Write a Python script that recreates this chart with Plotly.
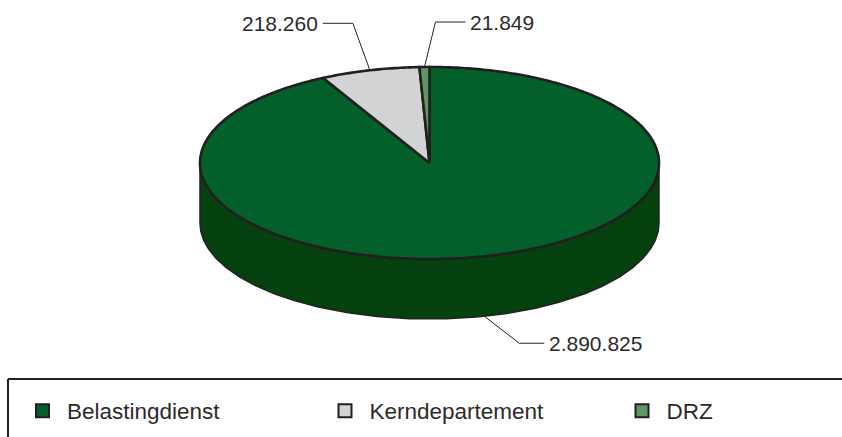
import numpy as np
import plotly.graph_objects as go

categories = ["Belastingdienst", "Kerndepartement", "DRZ"]
values = [2890825, 218260, 21849]
labels = ["2.890.825", "218.260", "21.849"]
colors = ["#04602A", "#D1D3D4", "#5E9664"]
wall_color = "#04410F"
ink = "#231F20"
text_ink = "#2B2A2A"

W, H = 842, 437
cx, cy, rx, ry, depth = 429.5, 163, 229.5, 96, 60
font_family = "Liberation Sans"


def pt(theta, dy=0.0):
    """theta: radians clockwise from 12 o'clock."""
    return cx + rx * np.sin(theta), cy - ry * np.cos(theta) + dy


fig = go.Figure()

# side wall (front half of the cylinder)
t = np.linspace(np.pi / 2, 3 * np.pi / 2, 240)
xt, yt = pt(t)
xb, yb = pt(t, depth)
fig.add_trace(go.Scatter(
    x=np.r_[xt, xb[::-1], xt[0]], y=np.r_[yt, yb[::-1], yt[0]],
    mode="lines", fill="toself", fillcolor=wall_color,
    line=dict(color=ink, width=1.5), showlegend=False, hoverinfo="skip"))

# top slices
fractions = np.array(values, dtype=float) / sum(values)
edges = np.r_[0, np.cumsum(fractions)] * 2 * np.pi
for i, name in enumerate(categories):
    a = np.linspace(edges[i], edges[i + 1], max(6, int(fractions[i] * 480)))
    x, y = pt(a)
    fig.add_trace(go.Scatter(
        x=np.r_[cx, x, cx], y=np.r_[cy, y, cy],
        mode="lines", fill="toself", fillcolor=colors[i],
        line=dict(color=ink, width=2.6, simplify=False), showlegend=False,
        hoverinfo="skip"))

# leader lines and value labels
elbows = [(35, 27, 25, "left"), (-17, -47, -30, "right"), (11, -45, 30, "left")]
mids = (edges[:-1] + edges[1:]) / 2
for i, (dx, dy, run, side) in enumerate(elbows):
    drop = depth if i == 0 else 0
    ax, ay = pt(mids[i], drop)
    ex, ey = ax + dx, ay + dy
    fig.add_trace(go.Scatter(
        x=[ax, ex, ex + run], y=[ay, ey, ey], mode="lines",
        line=dict(color=ink, width=1), showlegend=False, hoverinfo="skip"))
    fig.add_annotation(
        x=ex + run + (3 if run > 0 else -3), y=ey, text=labels[i], showarrow=False,
        xanchor=side, yanchor="middle",
        font=dict(family=font_family, size=21, color=text_ink))

# legend entries, one legend per entry so they can sit wide apart
legend_x = [18, 320.5, 617.5]
legend_layout = {}
for i, name in enumerate(categories):
    key = "legend" if i == 0 else f"legend{i + 1}"
    fig.add_trace(go.Scatter(
        x=[None], y=[None], mode="markers", name=name, legend=key,
        marker=dict(symbol="square", size=13, color=colors[i],
                    line=dict(color=ink, width=2))))
    legend_layout[key] = dict(
        x=legend_x[i] / W, y=(H - 411) / H, xanchor="left", yanchor="middle",
        itemclick=False, itemwidth=39, bgcolor="rgba(0,0,0,0)",
        font=dict(family=font_family, size=22.5, color=text_ink))

# legend frame, open on the right
frame = dict(type="line", xref="x", yref="y", line=dict(color=ink, width=2))
fig.add_shape(x0=8, x1=W, y0=379, y1=379, **frame)
fig.add_shape(x0=8, x1=8, y0=379, y1=H, **frame)

fig.update_layout(
    width=W, height=H, margin=dict(l=0, r=0, t=0, b=0),
    paper_bgcolor="white", plot_bgcolor="white", showlegend=True,
    xaxis=dict(range=[0, W], visible=False, fixedrange=True),
    yaxis=dict(range=[H, 0], visible=False, fixedrange=True),
    **legend_layout,
)
fig.write_html("out.html", config={"displayModeBar": False},
               post_script="document.body.style.margin='0';document.body.style.overflow='hidden';")
